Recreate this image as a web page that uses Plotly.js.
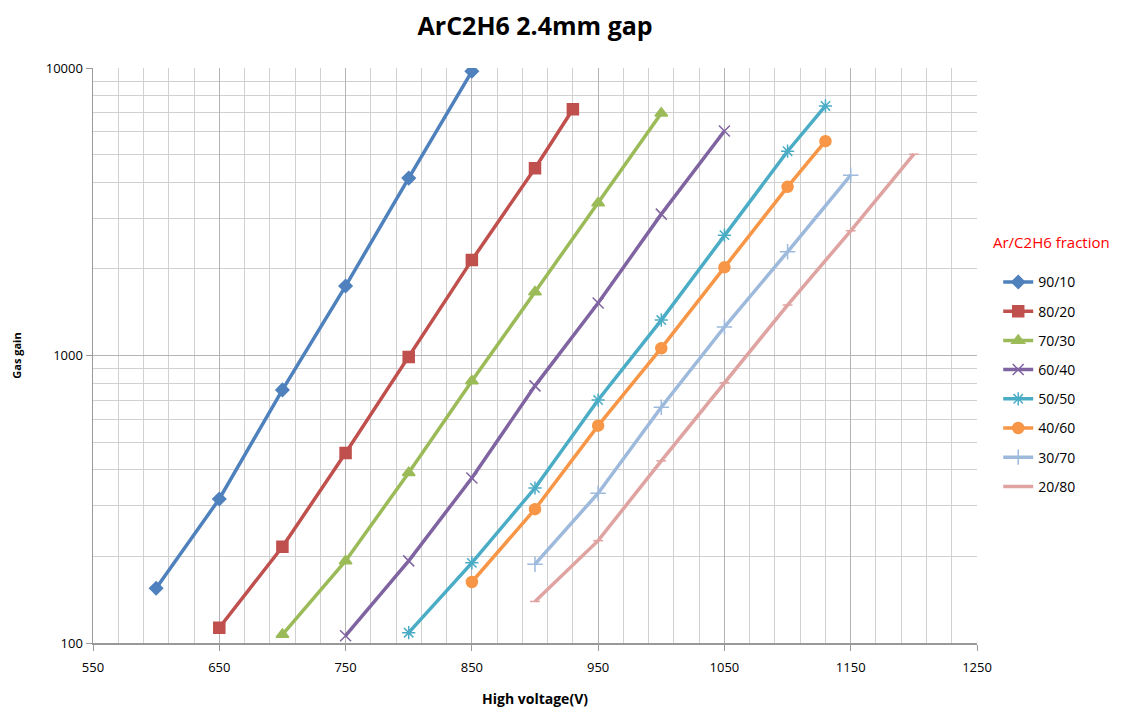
<!DOCTYPE html>
<html><head><meta charset="utf-8">
<script src="https://cdn.plot.ly/plotly-3.0.1.min.js"></script>
<style>html,body{margin:0;padding:0;background:#fff}#chart{width:1129px;height:708px}</style>
</head><body><div id="chart"></div>
<script>
const names = ["90/10","80/20","70/30","60/40","50/50","40/60","30/70","20/80"];
const x9010 = [600,650,700,750,800,850];
const y9010 = [155,317,759,1744,4140,9740];
const x8020 = [650,700,750,800,850,900,930];
const y8020 = [113,216,458,988,2147,4482,7186];
const x7030 = [700,750,800,850,900,950,1000];
const y7030 = [107,193,391,815,1662,3390,6960];
const x6040 = [750,800,850,900,950,1000,1050];
const y6040 = [106,193,375,784,1522,3102,6040];
const x5050 = [800,850,900,950,1000,1050,1100,1130];
const y5050 = [108.6,190,346,700,1328,2622,5135,7380];
const x4060 = [850,900,950,1000,1050,1100,1130];
const y4060 = [163,292,570,1060,2026,3860,5565];
const x3070 = [900,950,1000,1050,1100,1150];
const y3070 = [188,332,661,1256,2295,4238];
const x2080 = [900,950,1000,1050,1100,1150,1200];
const y2080 = [139.5,227,430,804,1498,2715,5013];
const xTicks = [550,650,750,850,950,1050,1150,1250];
const yTicks = [100,1000,10000];

const xs = [x9010,x8020,x7030,x6040,x5050,x4060,x3070,x2080];
const ys = [y9010,y8020,y7030,y6040,y5050,y4060,y3070,y2080];
const colors = ["#4F81BD","#C0504D","#9BBB59","#8064A2","#4BACC6","#F79646","#9DB9DC","#DFA3A1"];
const symbols = ["diamond","square","triangle-up","x-thin-open","asterisk-open","circle","cross-thin-open","line-ew-open"];
const sizes = [10,11,11,11,11,11,11,7];

const traces = names.map((n,i)=>({
  x: xs[i], y: ys[i], name: n, type:'scatter', mode:'lines+markers',
  legendgroup: 'g'+i,
  line:{color:colors[i], width:3.5},
  marker:{symbol:symbols[i], size:sizes[i], color:colors[i], line:{color:colors[i], width:1.5}}
}));

const layout = {
  width:1129, height:708,
  margin:{l:93, r:152, t:68, b:65},
  paper_bgcolor:'#fff', plot_bgcolor:'#fff',
  font:{family:'"Open Sans", "Liberation Sans", sans-serif', color:'#000'},
  title:{text:'<b>ArC2H6 2.4mm gap</b>', x:0.474, xanchor:'center', y:0.963, yanchor:'middle', font:{size:25, color:'#000'}},
  xaxis:{
    range:[550,1250], tickvals:xTicks, ticktext:xTicks.map(String),
    showline:true, linecolor:'#999', linewidth:1.5,
    ticks:'outside', ticklen:6, tickcolor:'#999',
    showgrid:true, gridcolor:'#b4b4b4', gridwidth:1,
    minor:{dtick:20, tick0:550, showgrid:true, gridcolor:'#d0d0d0', gridwidth:1},
    tickfont:{size:13, color:'#000'}, ticklabelstandoff:6,
    title:{text:'<b>High voltage(V)</b>', font:{size:14, color:'#000'}, standoff:24},
    zeroline:false
  },
  yaxis:{
    type:'log', range:[2,4], tickvals:yTicks, ticktext:yTicks.map(String),
    showline:true, linecolor:'#999', linewidth:1.5,
    ticks:'outside', ticklen:6, tickcolor:'#999',
    showgrid:true, gridcolor:'#b4b4b4', gridwidth:1,
    minor:{dtick:'D1', showgrid:true, gridcolor:'#d0d0d0', gridwidth:1},
    tickfont:{size:13, color:'#000'},
    title:{text:'<b>Gas gain</b>', font:{size:11, color:'#000'}, standoff:22},
    zeroline:false
  },
  showlegend:true,
  legend:{x:1.024, xanchor:'left', y:0.655, yanchor:'top', font:{size:14, color:'#000'},
    tracegroupgap:8, itemwidth:30, bgcolor:'rgba(0,0,0,0)'},
  annotations:[{text:'Ar/C2H6 fraction', xref:'paper', yref:'paper', x:1.016, xanchor:'left', y:0.677, yanchor:'bottom',
    showarrow:false, font:{size:15, color:'#FF0000'}}]
};
Plotly.newPlot('chart', traces, layout, {displayModeBar:false, staticPlot:true});
</script></body></html>
